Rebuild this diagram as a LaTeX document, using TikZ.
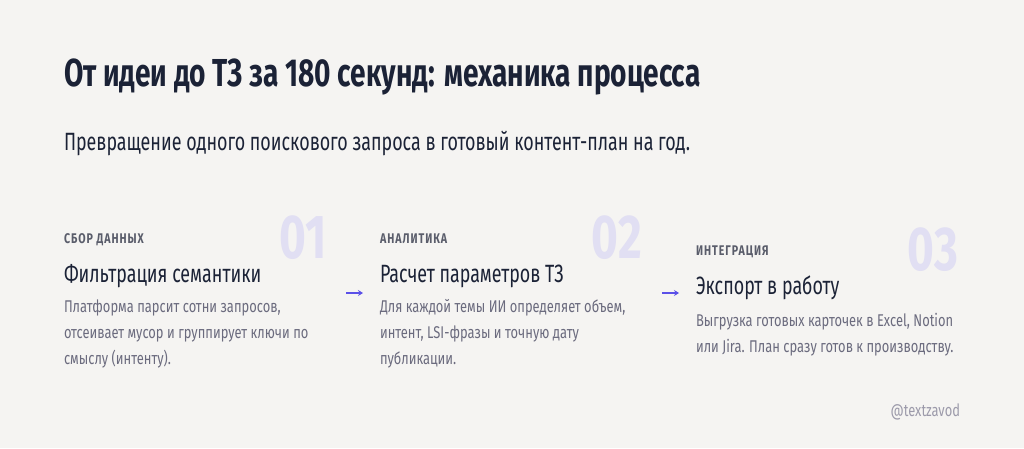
\documentclass[tikz,border=0pt]{standalone}
\usepackage{fontspec}
\setmainfont{Fira Sans}
\newfontfamily\titlefont{Fira Sans}[FakeStretch=0.72]
\newfontfamily\subfont{Fira Sans}[FakeStretch=0.715]
\newfontfamily\bodyfont{Fira Sans}[FakeStretch=0.76]
\newfontfamily\numfont{Fira Sans}[FakeStretch=0.74]
\usetikzlibrary{arrows.meta}
\definecolor{bg}{HTML}{F5F4F2}
\definecolor{ink}{HTML}{1B2236}
\definecolor{labelgray}{HTML}{5A5D6B}
\definecolor{bodygray}{HTML}{6B6B7E}
\definecolor{numcol}{HTML}{E1DFF3}
\definecolor{arrowcol}{HTML}{5B50E8}
\definecolor{handle}{HTML}{9C9AAA}
\tikzset{
  txt/.style={inner sep=0pt, outer sep=0pt, anchor=base west},
  titletxt/.style={txt, text=ink, font=\titlefont\bfseries\fontsize{39}{44}\selectfont},
  subtxt/.style={txt, text=ink, font=\subfont\fontsize{25}{30}\selectfont},
  labeltxt/.style={txt, text=labelgray, font=\bodyfont\bfseries\fontsize{14}{16}\selectfont},
  headtxt/.style={txt, text=ink, font=\subfont\fontsize{25}{30}\selectfont},
  bodytxt/.style={txt, text=bodygray, align=left, font=\bodyfont\fontsize{17}{24}\selectfont},
  numtxt/.style={inner sep=0pt, outer sep=0pt, anchor=base east, text=numcol, font=\numfont\bfseries\fontsize{62}{62}\selectfont},
  flow/.style={draw=arrowcol, line width=1.6pt, -{Stealth[length=5pt,width=6pt]}},
  handletxt/.style={inner sep=0pt, outer sep=0pt, anchor=base east, text=handle, font=\bodyfont\fontsize{17}{20}\selectfont}
}
\begin{document}
\begin{tikzpicture}[x=1pt,y=-1pt]
\fill[bg] (0,0) rectangle (1024,448);
\useasboundingbox (0,0) rectangle (1024,448);
\node[titletxt] (title) at (64,86) {От идеи до ТЗ за 180 секунд: механика процесса};
\node[subtxt] (sub) at (64,150) {Превращение одного поискового запроса в готовый контент-план на год.};
% column 1
\node[numtxt] (n1) at (327,258) {01};
\node[labeltxt] (l1) at (64,243) {\addfontfeature{LetterSpace=7}СБОР ДАННЫХ};
\node[headtxt] (h1) at (64,282) {Фильтрация семантики};
\node[bodytxt] (b1) at (64,364) {Платформа парсит сотни запросов,\\[2pt]отсеивает мусор и группирует ключи по\\[2pt]смыслу (интенту).};
% column 2
\node[numtxt] (n2) at (642,258) {02};
\node[labeltxt] (l2) at (380,243) {\addfontfeature{LetterSpace=7}АНАЛИТИКА};
\node[headtxt] (h2) at (380,282) {Расчет параметров ТЗ};
\node[bodytxt] (b2) at (380,364) {Для каждой темы ИИ определяет объем,\\[2pt]интент, LSI-фразы и точную дату\\[2pt]публикации.};
% column 3
\node[numtxt] (n3) at (958,270) {03};
\node[labeltxt] (l3) at (696,255) {\addfontfeature{LetterSpace=7}ИНТЕГРАЦИЯ};
\node[headtxt] (h3) at (696,294) {Экспорт в работу};
\node[bodytxt] (b3) at (696,352) {Выгрузка готовых карточек в Excel, Notion\\[2pt]или Jira. План сразу готов к производству.};
% arrows
\coordinate (a1s) at (346,293);
\coordinate (a1e) at (363,293);
\coordinate (a2s) at (662,293);
\coordinate (a2e) at (679,293);
\draw[flow] (a1s) -- (a1e);
\draw[flow] (a2s) -- (a2e);
\node[handletxt] (hd) at (960,416) {@textzavod};
\end{tikzpicture}
\end{document}
